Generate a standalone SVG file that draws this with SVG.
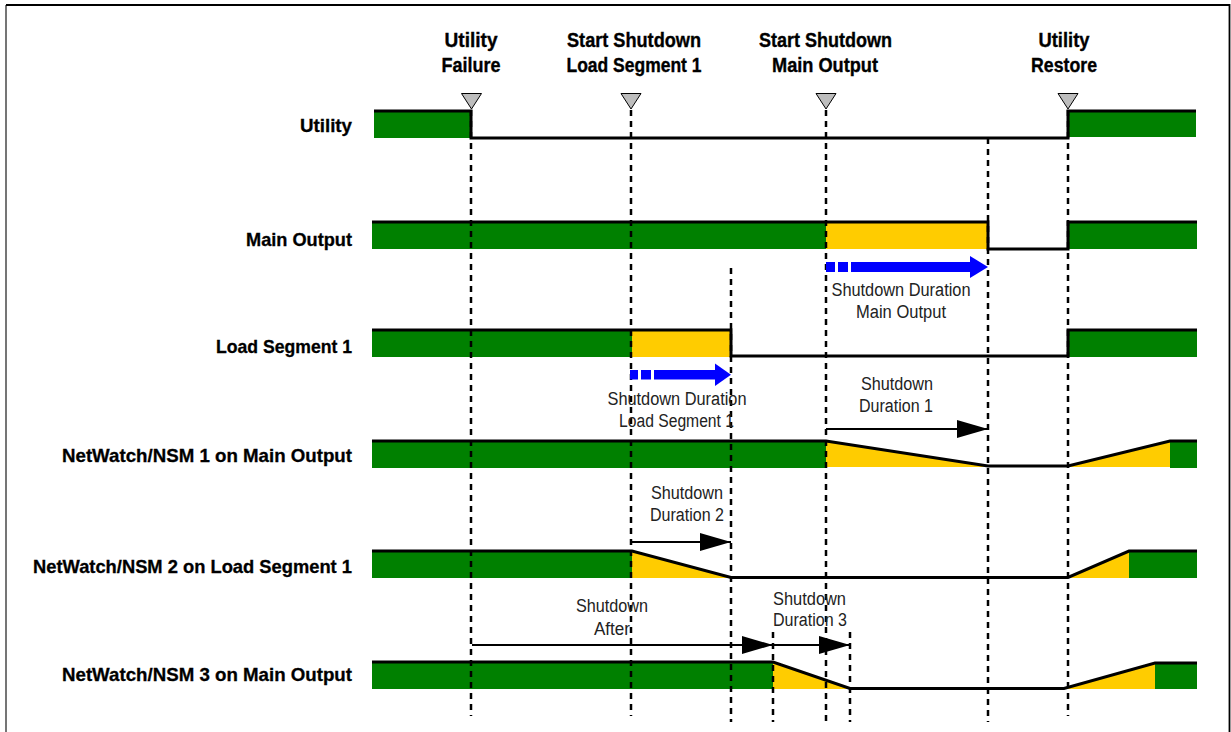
<svg xmlns="http://www.w3.org/2000/svg" width="1231" height="732" viewBox="0 0 1231 732">
<style>
.hdr{font-family:"Liberation Sans",Arial,sans-serif;font-weight:bold;font-size:20px;fill:#000;stroke:#000;stroke-width:0.35;text-anchor:middle}
.row{font-family:"Liberation Sans",Arial,sans-serif;font-weight:bold;font-size:18.5px;fill:#000;stroke:#000;stroke-width:0.3;text-anchor:end}
.note{font-family:"Liberation Sans",Arial,sans-serif;font-size:18px;fill:#222;text-anchor:middle}
.g{fill:#008000}
.y{fill:#ffcc00}
.wave{fill:none;stroke:#000;stroke-width:3;stroke-linejoin:miter}
.dash{stroke:#000;stroke-width:2.5;stroke-dasharray:6 5;fill:none}
.tri{fill:#bdbdbd;stroke:#000;stroke-width:1}
.arr{stroke:#000;stroke-width:2;fill:none;marker-end:url(#ah)}
.blue{fill:#0000ff}
</style>
<defs>
<marker id="ah" markerUnits="userSpaceOnUse" markerWidth="32" markerHeight="18" refX="31" refY="9" orient="auto">
<path d="M0,0 L31,9 L0,18 Z" fill="#000"/>
</marker>
</defs>
<rect x="0" y="0" width="1231" height="732" fill="#fff"/>
<path d="M6,732 V5" stroke="#666" stroke-width="1.8" fill="none"/>
<path d="M6,5 H1229.5 V732" stroke="#000" stroke-width="1.8" fill="none"/>

<g id="events">
<text class="hdr" x="471" y="47" textLength="53" lengthAdjust="spacingAndGlyphs">Utility</text>
<text class="hdr" x="471" y="72" textLength="59" lengthAdjust="spacingAndGlyphs">Failure</text>
<text class="hdr" x="634" y="47" textLength="134" lengthAdjust="spacingAndGlyphs">Start Shutdown</text>
<text class="hdr" x="634" y="72" textLength="135" lengthAdjust="spacingAndGlyphs">Load Segment 1</text>
<text class="hdr" x="825.5" y="47" textLength="133" lengthAdjust="spacingAndGlyphs">Start Shutdown</text>
<text class="hdr" x="825" y="72" textLength="106" lengthAdjust="spacingAndGlyphs">Main Output</text>
<text class="hdr" x="1064" y="47" textLength="51" lengthAdjust="spacingAndGlyphs">Utility</text>
<text class="hdr" x="1064" y="72" textLength="66" lengthAdjust="spacingAndGlyphs">Restore</text>
</g>

<g id="row-utility">
<text class="row" x="352" y="132" textLength="52" lengthAdjust="spacingAndGlyphs">Utility</text>
<rect class="g" x="374" y="111" width="97" height="27"/>
<rect class="g" x="1068" y="111" width="128" height="26"/>
<path class="wave" d="M374,111 H471 V138 H1068 V111 H1196"/>
</g>

<g id="row-main-output">
<text class="row" x="352" y="246" textLength="106" lengthAdjust="spacingAndGlyphs">Main Output</text>
<rect class="g" x="372" y="222" width="454" height="27"/>
<rect class="y" x="826" y="222" width="162" height="27"/>
<rect class="g" x="1068" y="222" width="129" height="27"/>
<path class="wave" d="M372,222 H988 V249 H1068 V222 H1197"/>
</g>

<g id="row-load-segment-1">
<text class="row" x="352" y="353" textLength="136" lengthAdjust="spacingAndGlyphs">Load Segment 1</text>
<rect class="g" x="372" y="330" width="260" height="27"/>
<rect class="y" x="632" y="330" width="99" height="27"/>
<rect class="g" x="1068" y="330" width="129" height="27"/>
<path class="wave" d="M372,330 H731 V356 H1068 V330 H1197"/>
</g>

<g id="row-nsm1">
<text class="row" x="352" y="462" textLength="290" lengthAdjust="spacingAndGlyphs">NetWatch/NSM 1 on Main Output</text>
<rect class="g" x="372" y="441" width="454" height="27"/>
<polygon class="y" points="826,441 988,467 826,467"/>
<polygon class="y" points="1068,467 1170,441 1170,467"/>
<rect class="g" x="1170" y="441" width="27" height="27"/>
<path class="wave" d="M372,441 H826 L988,466 H1068 L1170,441 H1197"/>
</g>

<g id="row-nsm2">
<text class="row" x="352" y="573" textLength="319" lengthAdjust="spacingAndGlyphs">NetWatch/NSM 2 on Load Segment 1</text>
<rect class="g" x="372" y="551" width="260" height="27"/>
<polygon class="y" points="632,551 731,578 632,578"/>
<polygon class="y" points="1068,578 1129,551 1129,578"/>
<rect class="g" x="1129" y="551" width="68" height="27"/>
<path class="wave" d="M372,551 H632 L731,577.5 H1068 L1129,551 H1197"/>
</g>

<g id="row-nsm3">
<text class="row" x="352" y="681" textLength="290" lengthAdjust="spacingAndGlyphs">NetWatch/NSM 3 on Main Output</text>
<rect class="g" x="372" y="662" width="401" height="27"/>
<polygon class="y" points="773,662 850,689 773,689"/>
<polygon class="y" points="1064,689 1155,663 1155,689"/>
<rect class="g" x="1155" y="663" width="42" height="26"/>
<path class="wave" d="M372,662 H773 L850,688.5 H1064 L1155,663 H1197"/>
</g>

<g id="connectors">
<path class="dash" d="M471,110 V716 M631,110 V716 M826,110 V722 M988,138 V722 M1068,110 V716 M731,268 V722 M773,632 V722 M850,632 V722"/>
<polygon class="tri" points="461.5,93.5 481.5,93.5 471.5,109"/>
<polygon class="tri" points="621,93.5 641,93.5 631,109"/>
<polygon class="tri" points="816,93.5 836,93.5 826,109"/>
<polygon class="tri" points="1058,93.5 1078,93.5 1068,109"/>

<rect class="blue" x="826" y="262" width="9" height="10"/>
<rect class="blue" x="838" y="262" width="10" height="10"/>
<rect class="blue" x="851" y="262" width="121" height="10"/>
<polygon class="blue" points="970,256 988,267 970,278"/>

<rect class="blue" x="630" y="370" width="8" height="9.5"/>
<rect class="blue" x="641" y="370" width="10" height="9.5"/>
<rect class="blue" x="654" y="370" width="62" height="9.5"/>
<polygon class="blue" points="715,363.5 731,374.75 715,386"/>

<line class="arr" x1="826" y1="429" x2="988" y2="429"/>
<line class="arr" x1="632" y1="542" x2="731" y2="542"/>
<line class="arr" x1="472" y1="645" x2="773" y2="645"/>
<line class="arr" x1="773" y1="645" x2="850" y2="645"/>

<text class="note" x="901" y="296" textLength="139" lengthAdjust="spacingAndGlyphs">Shutdown Duration</text>
<text class="note" x="901" y="318" textLength="90" lengthAdjust="spacingAndGlyphs">Main Output</text>
<text class="note" x="677" y="405" textLength="139" lengthAdjust="spacingAndGlyphs">Shutdown Duration</text>
<text class="note" x="676.5" y="427" textLength="115" lengthAdjust="spacingAndGlyphs">Load Segment 1</text>
<text class="note" x="897" y="390" textLength="72" lengthAdjust="spacingAndGlyphs">Shutdown</text>
<text class="note" x="896" y="412" textLength="74" lengthAdjust="spacingAndGlyphs">Duration 1</text>
<text class="note" x="687" y="499" textLength="72" lengthAdjust="spacingAndGlyphs">Shutdown</text>
<text class="note" x="687" y="521" textLength="74" lengthAdjust="spacingAndGlyphs">Duration 2</text>
<text class="note" x="612" y="612" textLength="72" lengthAdjust="spacingAndGlyphs">Shutdown</text>
<text class="note" x="612" y="635" textLength="36" lengthAdjust="spacingAndGlyphs">After</text>
<text class="note" x="809.5" y="605" textLength="73" lengthAdjust="spacingAndGlyphs">Shutdown</text>
<text class="note" x="810" y="626" textLength="74" lengthAdjust="spacingAndGlyphs">Duration 3</text>
</g>
</svg>
